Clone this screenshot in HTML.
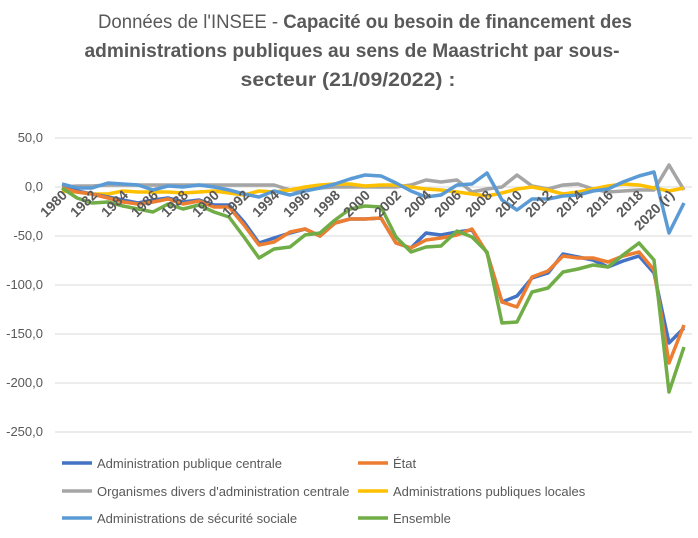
<!DOCTYPE html>
<html><head><meta charset="utf-8"><style>
body{margin:0;background:#fff;width:698px;height:533px;overflow:hidden}
svg{font-family:"Liberation Sans",sans-serif}
</style></head><body>
<svg width="698" height="533" viewBox="0 0 698 533" xmlns="http://www.w3.org/2000/svg">
<rect width="698" height="533" fill="#fff"/>
<g fill="#595959" font-size="19" text-anchor="middle">
<text x="365" y="28" textLength="534" lengthAdjust="spacingAndGlyphs">Données de l'INSEE - <tspan font-weight="bold">Capacité ou besoin de financement des</tspan></text>
<text x="352" y="57" textLength="535" lengthAdjust="spacingAndGlyphs" font-weight="bold">administrations publiques au sens de Maastricht par sous-</text>
<text x="348" y="86" textLength="215" lengthAdjust="spacingAndGlyphs" font-weight="bold">secteur (21/09/2022) :</text>
</g>
<g stroke="#d9d9d9" stroke-width="1">
<line x1="55" x2="692" y1="138" y2="138"/><line x1="55" x2="692" y1="236" y2="236"/>
<line x1="55" x2="692" y1="285" y2="285"/><line x1="55" x2="692" y1="334" y2="334"/>
<line x1="55" x2="692" y1="383" y2="383"/><line x1="55" x2="692" y1="432" y2="432"/>
<line x1="55" x2="692" y1="187" y2="187"/>
</g>
<g fill="#595959" font-size="13" text-anchor="end">
<text x="43" y="142">50,0</text><text x="43" y="191">0,0</text><text x="43" y="240">-50,0</text>
<text x="43" y="289">-100,0</text><text x="43" y="338">-150,0</text><text x="43" y="387">-200,0</text><text x="43" y="436">-250,0</text>
</g>
<g fill="none" stroke-width="3.5" stroke-linejoin="round">
<polyline stroke="#a5a5a5" points="62,187 77,186 92,186 108,185 123,185 138,185 153,185 168,185 183,185 199,185 214,185 229,185 244,185 259,185 274,185 290,190 305,190 320,188 335,187 350,187 365,187 381,187 396,187 411,185 426,180 441,182 457,180 472,192 487,189 502,187 517,175 532,186 548,189 563,185 578,184 593,189 608,192 623,191 639,190 654,190 669,165 684,190"/>
<polyline stroke="#ffc000" points="62,191 77,192 92,194 108,194 123,191 138,192 153,192 168,192 183,193 199,192 214,191 229,193 244,195 259,191 274,192 290,190 305,187 320,185 335,184 350,184 365,186 381,185 396,185 411,187 426,189 441,190 457,192 472,194 487,196 502,193 517,189 532,187 548,190 563,194 578,192 593,189 608,186 623,184 639,185 654,188 669,191 684,188"/>
<polyline stroke="#5b9bd5" points="62,184 77,188 92,188 108,183 123,184 138,185 153,190 168,186 183,187 199,185 214,187 229,190 244,194 259,197 274,191 290,195 305,191 320,188 335,184 350,179 365,175 381,176 396,183 411,191 426,197 441,195 457,185 472,184 487,173 502,200 517,210 532,199 548,199 563,196 578,195 593,191 608,189 623,182 639,176 654,172 669,233 684,203"/>
<polyline stroke="#4472c4" points="62,188 77,191 92,194 108,197 123,200 138,203 153,200 168,198 183,202 199,200 214,205 229,205 244,222 259,243 274,238 290,233 305,229 320,236 335,223 350,219 365,219 381,218 396,243 411,248 426,233 441,235 457,232 472,230 487,253 502,302 517,296 532,278 548,273 563,254 578,257 593,260 608,267 623,261 639,256 654,273 669,343 684,328"/>
<polyline stroke="#ed7d31" points="62,188 77,192 92,194 108,198 123,202 138,204 153,202 168,199 183,204 199,201 214,207 229,207 244,225 259,245 274,242 290,232 305,229 320,236 335,223 350,219 365,219 381,218 396,243 411,248 426,240 441,238 457,235 472,229 487,253 502,302 517,307 532,277 548,271 563,256 578,258 593,258 608,262 623,256 639,252 654,270 669,363 684,325"/>
<polyline stroke="#70ad47" points="62,188 77,198 92,203 108,202 123,206 138,209 153,212 168,204 183,209 199,205 214,212 229,217 244,237 259,258 274,249 290,247 305,235 320,233 335,220 350,209 365,206 381,207 396,237 411,252 426,247 441,246 457,231 472,237 487,252 502,323 517,322 532,292 548,288 563,272 578,269 593,265 608,267 623,255 639,243 654,260 669,392 684,347"/>
</g>
<g fill="#595959" font-size="14" font-weight="bold" text-anchor="end">
<text transform="translate(68,196) rotate(-45)">1980</text>
<text transform="translate(98,196) rotate(-45)">1982</text>
<text transform="translate(129,196) rotate(-45)">1984</text>
<text transform="translate(159,196) rotate(-45)">1986</text>
<text transform="translate(189,196) rotate(-45)">1988</text>
<text transform="translate(220,196) rotate(-45)">1990</text>
<text transform="translate(250,196) rotate(-45)">1992</text>
<text transform="translate(280,196) rotate(-45)">1994</text>
<text transform="translate(311,196) rotate(-45)">1996</text>
<text transform="translate(341,196) rotate(-45)">1998</text>
<text transform="translate(371,196) rotate(-45)">2000</text>
<text transform="translate(402,196) rotate(-45)">2002</text>
<text transform="translate(432,196) rotate(-45)">2004</text>
<text transform="translate(462,196) rotate(-45)">2006</text>
<text transform="translate(493,196) rotate(-45)">2008</text>
<text transform="translate(523,196) rotate(-45)">2010</text>
<text transform="translate(553,196) rotate(-45)">2012</text>
<text transform="translate(584,196) rotate(-45)">2014</text>
<text transform="translate(614,196) rotate(-45)">2016</text>
<text transform="translate(644,196) rotate(-45)">2018</text>
<text transform="translate(675,196) rotate(-45)">2020 (r)</text>
</g>
<g stroke-width="3.5">
<line x1="62" x2="92" y1="463" y2="463" stroke="#4472c4"/>
<line x1="358" x2="388" y1="463" y2="463" stroke="#ed7d31"/>
<line x1="62" x2="92" y1="491" y2="491" stroke="#a5a5a5"/>
<line x1="358" x2="388" y1="491" y2="491" stroke="#ffc000"/>
<line x1="62" x2="92" y1="518" y2="518" stroke="#5b9bd5"/>
<line x1="358" x2="388" y1="518" y2="518" stroke="#70ad47"/>
</g>
<g fill="#595959" font-size="13">
<text x="97" y="468">Administration publique centrale</text>
<text x="393" y="468">État</text>
<text x="97" y="496">Organismes divers d'administration centrale</text>
<text x="393" y="496">Administrations publiques locales</text>
<text x="97" y="523">Administrations de sécurité sociale</text>
<text x="393" y="523">Ensemble</text>
</g>
</svg>
</body></html>
